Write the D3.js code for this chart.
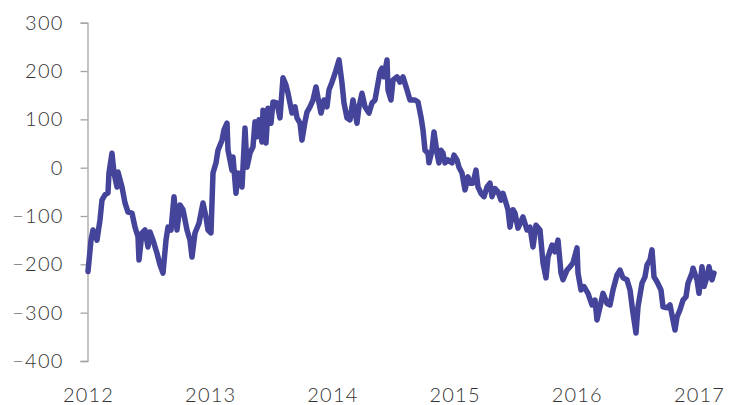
<!DOCTYPE html>
<html>
<head>
<meta charset="utf-8">
<script src="https://cdn.jsdelivr.net/npm/d3@7"></script>
<style>
  html, body { margin: 0; padding: 0; background: #ffffff; }
  svg { display: block; }
  text { font-family: Lato, "Open Sans", sans-serif; font-weight: 300; }
</style>
</head>
<body>
<svg id="chart" width="729" height="405"></svg>
<script>
// Time as decimal years
const yearFrac = [
  2012.0000, 2012.0245, 2012.0409, 2012.0736, 2012.0982, 2012.1146, 2012.1391, 2012.1637, 2012.1718, 2012.1964,
  2012.2128, 2012.2373, 2012.2455, 2012.2782, 2012.3028, 2012.3273, 2012.3601, 2012.3846, 2012.4092, 2012.4173,
  2012.4419, 2012.4664, 2012.4910, 2012.5074, 2012.5319, 2012.5646, 2012.5892, 2012.6137, 2012.6383, 2012.6547,
  2012.6792, 2012.7038, 2012.7283, 2012.7529, 2012.7774, 2012.8101, 2012.8347, 2012.8511, 2012.8756, 2012.9083,
  2012.9411, 2012.9656, 2012.9820, 2013.0065, 2013.0229, 2013.0475, 2013.0638, 2013.0966, 2013.1129, 2013.1375,
  2013.1457, 2013.1784, 2013.1866, 2013.2111, 2013.2275, 2013.2602, 2013.2848, 2013.3011, 2013.3257, 2013.3502,
  2013.3666, 2013.3830, 2013.3993, 2013.4239, 2013.4321, 2013.4566, 2013.4730, 2013.4975, 2013.5139, 2013.5466,
  2013.5712, 2013.5957, 2013.6203, 2013.6367, 2013.6694, 2013.6939, 2013.7103, 2013.7349, 2013.7512, 2013.7758,
  2013.7921, 2013.8167, 2013.8412, 2013.8658, 2013.8822, 2013.9067, 2013.9313, 2013.9558, 2013.9722, 2013.9967,
  2014.0213, 2014.0540, 2014.0786, 2014.0949, 2014.1195, 2014.1440, 2014.1686, 2014.2013, 2014.2177, 2014.2422,
  2014.2668, 2014.2995, 2014.3241, 2014.3486, 2014.3732, 2014.3895, 2014.4059, 2014.4223, 2014.4468, 2014.4550,
  2014.4795, 2014.4959, 2014.5286, 2014.5532, 2014.5777, 2014.6105, 2014.6350, 2014.6759, 2014.7005, 2014.7250,
  2014.7414, 2014.7578, 2014.7823, 2014.7905, 2014.8151, 2014.8314, 2014.8560, 2014.8723, 2014.8887, 2014.9051,
  2014.9214, 2014.9460, 2014.9787, 2014.9951, 2015.0196, 2015.0360, 2015.0606, 2015.0851, 2015.1097, 2015.1260,
  2015.1506, 2015.1751, 2015.1915, 2015.2160, 2015.2406, 2015.2651, 2015.2897, 2015.3061, 2015.3306, 2015.3552,
  2015.3797, 2015.3961, 2015.4206, 2015.4370, 2015.4534, 2015.4779, 2015.4943, 2015.5188, 2015.5597, 2015.5925,
  2015.6170, 2015.6416, 2015.6661, 2015.6989, 2015.7234, 2015.7480, 2015.7643, 2015.7971, 2015.8216, 2015.8462,
  2015.8707, 2015.8871, 2015.9198, 2015.9444, 2015.9689, 2016.0016, 2016.0098, 2016.0344, 2016.0589, 2016.0917,
  2016.1244, 2016.1490, 2016.1653, 2016.1899, 2016.2144, 2016.2471, 2016.2717, 2016.2962, 2016.3290, 2016.3535,
  2016.3781, 2016.4108, 2016.4354, 2016.4599, 2016.4845, 2016.5008, 2016.5336, 2016.5581, 2016.5745, 2016.5990,
  2016.6154, 2016.6318, 2016.6563, 2016.6890, 2016.7054, 2016.7381, 2016.7627, 2016.7872, 2016.8036, 2016.8200,
  2016.8445, 2016.8691, 2016.8936, 2016.9100, 2016.9427, 2016.9509, 2016.9836, 2017.0000, 2017.0245, 2017.0409,
  2017.0655, 2017.0818, 2017.1064, 2017.1227
];

const values = [
  -215, -150, -129, -150, -108, -67, -56, -52, -11, 30,
  -11, -40, -9, -40, -73, -92, -94, -123, -143, -191,
  -135, -129, -164, -133, -150, -177, -201, -218, -150, -123,
  -129, -60, -129, -77, -87, -129, -150, -185, -135, -115,
  -73, -102, -129, -135, -11, 10, 36, 57, 78, 92,
  36, -5, 22, -53, -11, -40, 82, 1, 30, 43,
  95, 64, 99, 53, 119, 51, 123, 92, 136, 134,
  103, 186, 171, 154, 113, 126, 103, 92, 57, 95,
  115, 126, 140, 167, 144, 113, 140, 126, 161, 177,
  195, 223, 175, 134, 103, 99, 140, 92, 126, 154,
  126, 113, 134, 140, 175, 198, 206, 188, 223, 161,
  140, 181, 188, 177, 188, 161, 140, 140, 136, 105,
  78, 36, 30, 10, 36, 74, 30, 10, 36, 30,
  10, 16, 10, 26, 16, 1, -11, -46, -19, -32,
  -32, -5, -40, -53, -60, -40, -32, -60, -43, -50,
  -67, -53, -73, -87, -123, -87, -94, -125, -102, -129,
  -123, -164, -119, -129, -197, -228, -185, -160, -174, -150,
  -218, -232, -212, -205, -197, -166, -218, -253, -246, -260,
  -284, -274, -315, -288, -260, -281, -284, -253, -222, -212,
  -228, -232, -253, -301, -342, -288, -239, -226, -201, -191,
  -170, -226, -236, -253, -288, -290, -284, -315, -336, -309,
  -294, -274, -267, -239, -218, -208, -232, -260, -205, -246,
  -226, -205, -232, -218
];

const yTicks = [-400, -300, -200, -100, 0, 100, 200, 300];
const xTicks = [2012, 2013, 2014, 2015, 2016, 2017];

const data = yearFrac.map((t, i) => ({ t, v: values[i] }));

const svg = d3.select("#chart");

const x = d3.scaleLinear().domain([2012, 2017]).range([88, 699]);
const y = d3.scaleLinear().domain([-400, 300]).range([361, 22.7]);

// Y axis
const yAxis = d3.axisLeft(y)
  .tickValues(yTicks)
  .tickFormat(d3.format("d"))
  .tickSize(7)
  .tickSizeOuter(7)
  .tickPadding(17);

const gy = svg.append("g")
  .attr("transform", "translate(87.5,0)")
  .call(yAxis);
gy.select(".domain").attr("stroke", "#a3a3a3").attr("stroke-width", 1.3);
gy.selectAll(".tick line").attr("stroke", "#a3a3a3").attr("stroke-width", 1.3);
gy.selectAll(".tick text")
  .attr("fill", "#333333")
  .style("font-size", "20px")
  .style("letter-spacing", "1.2px")
  .style("font-family", "Lato, 'Open Sans', sans-serif")
  .style("font-weight", 300);

// X axis: labels only
const xAxis = d3.axisBottom(x)
  .tickValues(xTicks)
  .tickFormat(d3.format("d"))
  .tickSize(0)
  .tickPadding(0);

const gx = svg.append("g")
  .attr("transform", "translate(0,384)")
  .call(xAxis);
gx.select(".domain").remove();
gx.selectAll(".tick text")
  .attr("fill", "#333333")
  .attr("dy", "0.9em")
  .style("font-size", "20px")
  .style("letter-spacing", "1.2px")
  .style("font-family", "Lato, 'Open Sans', sans-serif")
  .style("font-weight", 300);

// Line
const line = d3.line()
  .x(d => x(d.t))
  .y(d => y(d.v))
  .curve(d3.curveLinear);

svg.append("path")
  .datum(data)
  .attr("fill", "none")
  .attr("stroke", "#44449a")
  .attr("stroke-width", 5.5)
  .attr("stroke-linejoin", "round")
  .attr("stroke-linecap", "round")
  .attr("d", line);
</script>
</body>
</html>
